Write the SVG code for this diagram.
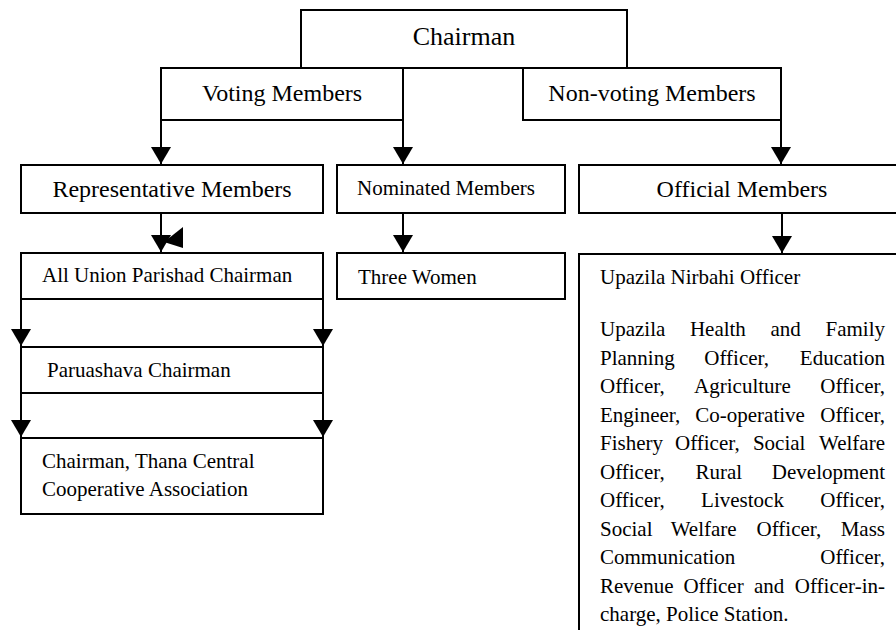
<svg xmlns="http://www.w3.org/2000/svg" width="896" height="630" viewBox="0 0 896 630">
<style>
rect{fill:#fff;stroke:#000;stroke-width:2}
text{font-family:"Liberation Serif","Times New Roman",serif;fill:#000}
.big{font-size:24px}
.t{font-size:21px}
.c{text-anchor:middle}
.e{text-anchor:end}
.ln{fill:none;stroke:#000;stroke-width:2;marker-end:url(#ah)}
</style>
<defs>
<marker id="ah" markerUnits="userSpaceOnUse" markerWidth="18" markerHeight="20" refX="17" refY="10" orient="auto">
<path d="M0,0 L17,10 L0,20 z" fill="#000"/>
</marker>
</defs>
<rect width="896" height="630" style="fill:#fff;stroke:none"/>
<g id="connectors">
<path class="ln" d="M161,120 V164"/>
<path class="ln" d="M403,120 V164"/>
<path class="ln" d="M781,120 V164"/>
<path class="ln" d="M161,213 V252"/>
<polygon points="183,227 183,248 164,242" fill="#000"/>
<path class="ln" d="M403,213 V252"/>
<path class="ln" d="M782,213 V253"/>
<path class="ln" d="M21,299 V346"/>
<path class="ln" d="M323,299 V346"/>
<path class="ln" d="M21,393 V437"/>
<path class="ln" d="M323,393 V437"/>
</g>
<g id="chairman">
<rect x="301" y="10" width="326" height="58"/>
<text class="c" x="464" y="45" style="font-size:26px">Chairman</text>
</g>
<g id="voting">
<rect x="161" y="68" width="242" height="52"/>
<text class="big c" x="282" y="101">Voting Members</text>
</g>
<g id="nonvoting">
<rect x="523" y="68" width="258" height="52"/>
<text class="big c" x="652" y="101">Non-voting Members</text>
</g>
<g id="representative">
<rect x="21" y="165" width="302" height="48"/>
<text class="big c" x="172" y="197">Representative Members</text>
</g>
<g id="nominated">
<rect x="337" y="165" width="228" height="48"/>
<text class="t" x="357" y="195">Nominated Members</text>
</g>
<g id="official">
<rect x="579" y="165" width="330" height="48"/>
<text class="big c" x="742" y="197">Official Members</text>
</g>
<g id="union">
<rect x="21" y="253" width="302" height="46"/>
<text class="t" x="42" y="282">All Union Parishad Chairman</text>
</g>
<g id="threewomen">
<rect x="337" y="253" width="228" height="46"/>
<text class="t" x="358" y="284">Three Women</text>
</g>
<g id="paruashava">
<rect x="21" y="347" width="302" height="46"/>
<text class="t" x="47" y="377">Paruashava Chairman</text>
</g>
<g id="thana">
<rect x="21" y="438" width="302" height="76"/>
<text class="t" x="42" y="468">Chairman, Thana Central</text>
<text class="t" x="42" y="496">Cooperative Association</text>
</g>
<g id="officials">
<rect x="579" y="254" width="330" height="400"/>
<text class="t" x="600" y="284">Upazila Nirbahi Officer</text>
<text class="t" y="336"><tspan x="600">Upazila</tspan><tspan x="689.9">Health</tspan><tspan x="770.5">and</tspan><tspan x="825.5">Family</tspan></text>
<text class="t" y="365"><tspan x="600">Planning</tspan><tspan x="704.3">Officer,</tspan></text>
<text class="t e" x="885" y="365">Education</text>
<text class="t" y="393"><tspan x="600">Officer,</tspan><tspan x="694.1">Agriculture</tspan></text>
<text class="t e" x="885" y="393">Officer,</text>
<text class="t" y="422"><tspan x="600">Engineer,</tspan><tspan x="695.3">Co-operative</tspan></text>
<text class="t e" x="885" y="422">Officer,</text>
<text class="t" y="450"><tspan x="600">Fishery</tspan><tspan x="675">Officer,</tspan><tspan x="752.9">Social</tspan></text>
<text class="t e" x="885" y="450">Welfare</text>
<text class="t" y="479"><tspan x="600">Officer,</tspan><tspan x="695.5">Rural</tspan></text>
<text class="t e" x="885" y="479">Development</text>
<text class="t" y="507"><tspan x="600">Officer,</tspan><tspan x="701.1">Livestock</tspan></text>
<text class="t e" x="885" y="507">Officer,</text>
<text class="t" y="536"><tspan x="600">Social</tspan><tspan x="670.7">Welfare</tspan><tspan x="756.6">Officer,</tspan></text>
<text class="t e" x="885" y="536">Mass</text>
<text class="t" x="600" y="564">Communication</text>
<text class="t e" x="885" y="564">Officer,</text>
<text class="t" y="593"><tspan x="600">Revenue</tspan><tspan x="683.4">Officer</tspan><tspan x="753.9">and</tspan></text>
<text class="t e" x="885" y="593">Officer-in-</text>
<text class="t" x="600" y="621">charge, Police Station.</text>
</g>
</svg>
